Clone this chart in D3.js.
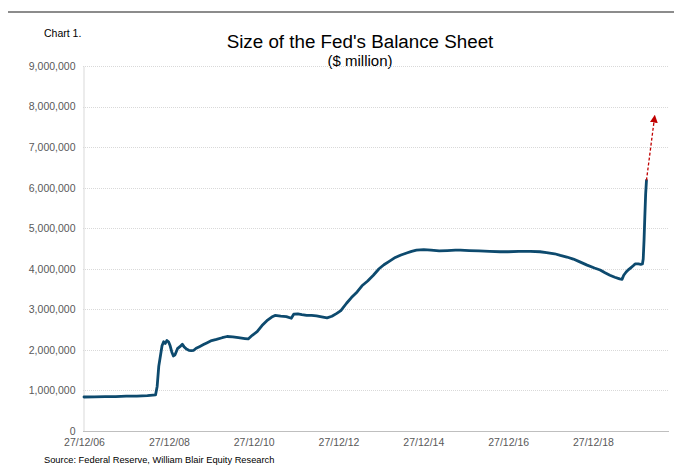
<!DOCTYPE html>
<html>
<head>
<meta charset="utf-8">
<script src="https://cdn.jsdelivr.net/npm/d3@7"></script>
<style>
  html, body { margin: 0; padding: 0; background: #fff; }
  svg { display: block; font-family: "Liberation Sans", Arial, sans-serif; }
</style>
</head>
<body>
<svg id="chart" width="674" height="467"></svg>
<script>
// ---------- DATA ($ million) ----------
const dates = [
  "2006-12-27","2007-03-28","2007-06-27","2007-09-26","2007-12-26","2008-03-26","2008-06-25","2008-09-03",
  "2008-09-17","2008-10-01","2008-10-15","2008-10-29","2008-11-12","2008-11-26","2008-12-10","2008-12-24",
  "2009-01-07","2009-01-21","2009-02-04","2009-02-18","2009-03-11","2009-04-01","2009-04-22","2009-05-06",
  "2009-05-27","2009-06-17","2009-07-08","2009-07-29","2009-08-19","2009-09-16","2009-10-21","2009-11-18",
  "2009-12-30","2010-02-10","2010-03-31","2010-05-12","2010-06-30","2010-08-18","2010-10-13","2010-11-10",
  "2010-12-15","2011-01-26","2011-03-09","2011-04-20","2011-06-01","2011-06-29","2011-08-17","2011-10-05",
  "2011-11-16","2011-12-07","2012-01-11","2012-02-15","2012-03-28","2012-05-09","2012-06-20","2012-08-15",
  "2012-09-19","2012-10-31","2012-12-12","2013-01-16","2013-03-06","2013-04-17","2013-06-05","2013-07-17",
  "2013-09-04","2013-10-23","2013-12-11","2014-01-22","2014-03-12","2014-04-30","2014-06-18","2014-08-06",
  "2014-09-17","2014-10-29","2014-12-31","2015-03-04","2015-05-13","2015-07-22","2015-09-30","2015-11-11",
  "2016-01-27","2016-04-20","2016-07-20","2016-10-19","2016-12-28","2017-03-29","2017-07-05","2017-09-27",
  "2017-11-22","2018-01-31","2018-03-21","2018-05-16","2018-07-11","2018-09-05","2018-11-07","2019-01-09",
  "2019-02-27","2019-04-10","2019-05-22","2019-07-03","2019-08-14","2019-09-04","2019-09-18","2019-10-09",
  "2019-10-30","2019-11-20","2019-12-11","2019-12-25","2020-01-22","2020-02-12","2020-02-26","2020-03-04",
  "2020-03-11","2020-03-18","2020-03-25","2020-04-01"
];
const values = [
  838000,842000,846000,850000,858000,862000,872000,890000,
  1100000,1600000,1850000,2100000,2200000,2160000,2230000,2200000,
  2100000,1950000,1850000,1880000,2030000,2080000,2140000,2080000,
  2020000,1990000,1980000,1990000,2040000,2080000,2130000,2170000,
  2230000,2260000,2300000,2330000,2320000,2300000,2280000,2270000,
  2360000,2450000,2600000,2720000,2810000,2850000,2830000,2820000,
  2780000,2880000,2890000,2870000,2850000,2850000,2840000,2810000,
  2790000,2830000,2900000,2970000,3150000,3290000,3430000,3580000,
  3700000,3840000,4000000,4100000,4190000,4280000,4340000,4390000,
  4430000,4460000,4470000,4460000,4440000,4450000,4460000,4460000,
  4450000,4440000,4430000,4420000,4420000,4430000,4430000,4420000,
  4400000,4370000,4330000,4290000,4240000,4170000,4090000,4020000,
  3970000,3900000,3840000,3790000,3750000,3740000,3840000,3920000,
  3980000,4030000,4080000,4120000,4120000,4110000,4120000,4240000,
  4700000,5300000,5850000,6180000
];
// projection arrow (start = last data point, end = projected value)
const arrowDates = ["2020-04-01", "2020-06-08"];
const arrowValues = [6180000, 7700000];

const yTicks = [0,1000000,2000000,3000000,4000000,5000000,6000000,7000000,8000000,9000000];
const xTickDates = ["2006-12-27","2008-12-27","2010-12-27","2012-12-27","2014-12-27","2016-12-27","2018-12-27"];
const xDomain = ["2006-12-27","2020-10-12"];

// ---------- SETUP ----------
const parse = d3.timeParse("%Y-%m-%d");
const fmtX = d3.timeFormat("%d/%m/%y");
const fmtY = d3.format(",");
const svg = d3.select("#chart");

const margin = {left: 84, right: 5, top: 66, bottom: 36};
const W = 674, H = 467;
const x = d3.scaleTime().domain(xDomain.map(parse)).range([margin.left, W - margin.right]);
const y = d3.scaleLinear().domain([0, 9000000]).range([H - margin.bottom, margin.top]);

// top rule
svg.append("line").attr("x1", 8).attr("x2", 674).attr("y1", 12).attr("y2", 12)
  .attr("stroke", "#8c8c8c").attr("stroke-width", 2);

// labels
svg.append("text").attr("x", 44).attr("y", 37).attr("font-size", 10.5).attr("fill", "#000").text("Chart 1.");
svg.append("text").attr("x", 360).attr("y", 47.5).attr("text-anchor", "middle").attr("font-size", 18.8).attr("fill", "#000")
  .text("Size of the Fed's Balance Sheet");
svg.append("text").attr("x", 360).attr("y", 66).attr("text-anchor", "middle").attr("font-size", 15).attr("fill", "#000")
  .text("($ million)");

// gridlines
svg.append("g").selectAll("line").data(yTicks.filter(d => d > 0)).join("line")
  .attr("x1", margin.left - 1).attr("x2", W - margin.right)
  .attr("y1", d => Math.round(y(d)) + 0.5).attr("y2", d => Math.round(y(d)) + 0.5)
  .attr("stroke", "#d9d9d9").attr("stroke-width", 1).attr("stroke-dasharray", "1,1");

// y axis
const yAxis = svg.append("g").attr("transform", `translate(${margin.left - 0.5},0)`)
  .call(d3.axisLeft(y).tickValues(yTicks).tickFormat(fmtY).tickSize(0).tickPadding(8));
yAxis.select(".domain").attr("stroke", "#d9d9d9");
yAxis.selectAll("text").attr("font-size", 10.5).attr("fill", "#595959").attr("font-family", "Liberation Sans, Arial, sans-serif");

// x axis
const xAxis = svg.append("g").attr("transform", `translate(0,${Math.round(y(0)) + 0.5})`)
  .call(d3.axisBottom(x).tickValues(xTickDates.map(parse)).tickFormat(fmtX).tickSize(0).tickPadding(7.5));
xAxis.select(".domain").attr("stroke", "#bfbfbf").attr("d", `M${margin.left - 1},0H${W - margin.right}`);
xAxis.selectAll("text").attr("font-size", 10.5).attr("fill", "#595959").attr("font-family", "Liberation Sans, Arial, sans-serif");

// line
const data = dates.map((d, i) => ({date: parse(d), value: values[i]}));
const line = d3.line().x(d => x(d.date)).y(d => y(d.value));
svg.append("path").datum(data).attr("d", line)
  .attr("fill", "none").attr("stroke", "#0d4a6e").attr("stroke-width", 2.8)
  .attr("stroke-linejoin", "round").attr("stroke-linecap", "round");

// arrow
svg.append("defs").append("marker").attr("id", "arrowhead")
  .attr("viewBox", "0 0 10 10").attr("refX", 5).attr("refY", 5)
  .attr("markerWidth", 6).attr("markerHeight", 6).attr("orient", "auto-start-reverse")
  .append("path").attr("d", "M0,0L10,5L0,10Z").attr("fill", "#c00000");
const arrowData = arrowDates.map((d, i) => ({date: parse(d), value: arrowValues[i]}));
svg.append("path").datum(arrowData).attr("d", line)
  .attr("fill", "none").attr("stroke", "#c00000").attr("stroke-width", 1.3)
  .attr("stroke-dasharray", "3,2").attr("marker-end", "url(#arrowhead)");

// source
svg.append("text").attr("x", 44).attr("y", 463).attr("font-size", 9.3).attr("fill", "#000")
  .text("Source: Federal Reserve, William Blair Equity Research");
</script>
</body>
</html>
